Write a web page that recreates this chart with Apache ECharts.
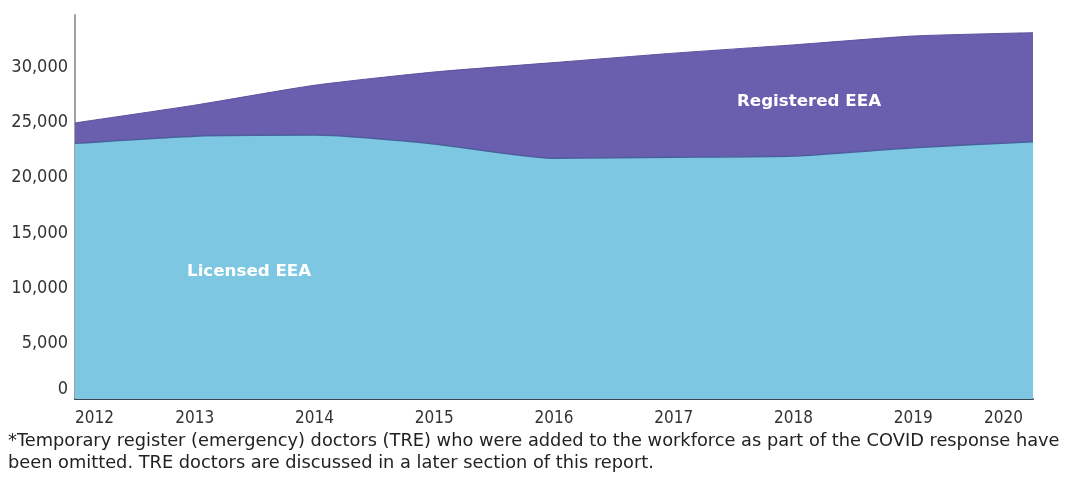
<!DOCTYPE html>
<html>
<head>
<meta charset="utf-8">
<script src="https://cdn.jsdelivr.net/npm/echarts@6/dist/echarts.min.js"></script>
<style>
html,body{margin:0;padding:0;background:#fff;}
#chart{width:1071px;height:477px;}
</style>
</head>
<body>
<div id="chart"></div>
<script>
const years = ['2012','2013','2014','2015','2016','2017','2018','2019','2020'];
const licensedEEA = [23100, 23750, 23850, 23050, 21750, 21850, 21950, 22700, 23250];
const registeredEEA = [1850, 2800, 4500, 6500, 8650, 9400, 10050, 10100, 9850];
const yTicks = [0, 5000, 10000, 15000, 20000, 25000, 30000];
const footnote = [
  '*Temporary register (emergency) doctors (TRE) who were added to the workforce as part of the COVID response have',
  'been omitted. TRE doctors are discussed in a later section of this report.'
];

const FONT = '"DejaVu Sans Condensed", "DejaVu Sans", sans-serif';
const FONT_W = '"DejaVu Sans", sans-serif';
const chart = echarts.init(document.getElementById('chart'), null, {renderer: 'canvas'});

chart.setOption({
  animation: false,
  backgroundColor: '#ffffff',
  grid: {left: 75, right: 38, top: 15, bottom: 78, containLabel: false},
  xAxis: {
    type: 'category',
    data: years,
    boundaryGap: false,
    axisLine: {show: true, lineStyle: {color: '#3d4650', width: 2}},
    axisTick: {show: false},
    axisLabel: {
      color: '#333', fontFamily: FONT, fontSize: 17, margin: 11,
      alignMinLabel: 'left', alignMaxLabel: 'right',
      formatter: function (v, i) { return i === years.length - 1 ? '{r|' + v + '}' : v; },
      rich: {r: {color: '#333', fontFamily: FONT, fontSize: 17, padding: [0, 10, 0, 0]}}
    },
    splitLine: {show: false}
  },
  yAxis: {
    type: 'value',
    min: 0,
    max: 34700,
    interval: 5000,
    axisLine: {show: true, lineStyle: {color: '#a0a0a0', width: 2}},
    axisTick: {show: false},
    splitLine: {show: false},
    axisLabel: {
      color: '#333', fontFamily: FONT, fontSize: 18, margin: 7,
      formatter: function (v) {
        if (yTicks.indexOf(v) < 0) return '';
        if (v === 0) return '{z|0}';
        return v.toLocaleString('en-US');
      },
      rich: {z: {color: '#333', fontFamily: FONT, fontSize: 18, padding: [0, 0, 20, 0]}}
    }
  },
  series: [
    {
      name: 'Licensed EEA',
      type: 'line',
      stack: 'total',
      data: licensedEEA,
      smooth: 0.2,
      symbol: 'none',
      lineStyle: {color: '#4a5f9c', width: 1.5},
      areaStyle: {color: '#7ec7e2', opacity: 1},
      z: 3
    },
    {
      name: 'Registered EEA',
      type: 'line',
      stack: 'total',
      data: registeredEEA,
      smooth: 0.2,
      symbol: 'none',
      lineStyle: {color: '#5b519e', width: 1},
      areaStyle: {color: '#6a5faf', opacity: 1},
      z: 2
    }
  ],
  graphic: [
    {type: 'text', x: 187, y: 272, z: 10,
     style: {text: 'Licensed EEA', fill: '#ffffff', font: 'bold 16.7px ' + FONT_W, verticalAlign: 'middle'}},
    {type: 'text', x: 737, y: 102, z: 10,
     style: {text: 'Registered EEA', fill: '#ffffff', font: 'bold 16.7px ' + FONT_W, verticalAlign: 'middle'}},
    {type: 'text', x: 8, y: 441, z: 10,
     style: {text: footnote[0], fill: '#222', font: '17.8px ' + FONT_W, verticalAlign: 'middle'}},
    {type: 'text', x: 8, y: 463, z: 10,
     style: {text: footnote[1], fill: '#222', font: '17.8px ' + FONT_W, verticalAlign: 'middle'}}
  ]
});
</script>
</body>
</html>
